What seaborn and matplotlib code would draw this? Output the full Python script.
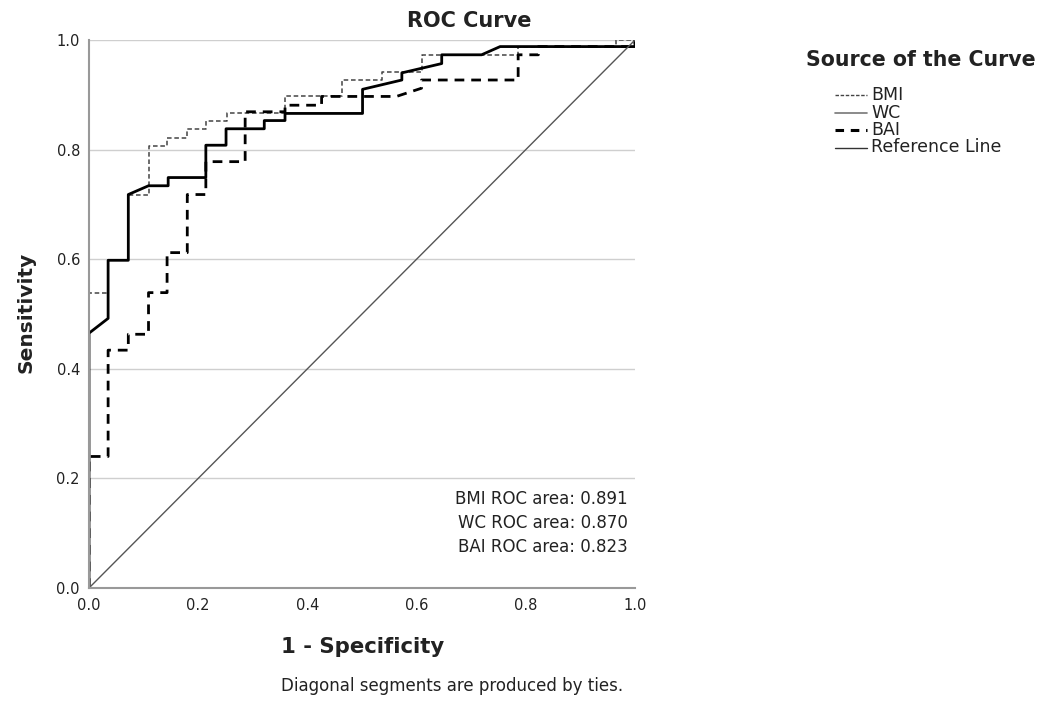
import matplotlib.pyplot as plt
from matplotlib.lines import Line2D
import seaborn as sns
import pandas as pd

sns.set_theme(style="white")
plt.rcParams['font.family'] = ['DejaVu Sans']

# ROC step vertices (1 - specificity, sensitivity)
bmi_fpr = [0, 0, 0.035, 0.035, 0.072, 0.072, 0.109, 0.109, 0.143, 0.143, 0.180, 0.180,
           0.215, 0.215, 0.252, 0.252, 0.359, 0.359, 0.463, 0.463, 0.536, 0.536,
           0.609, 0.609, 0.786, 0.786, 0.966, 0.966, 1.0]
bmi_tpr = [0, 0.539, 0.539, 0.598, 0.598, 0.718, 0.718, 0.807, 0.807, 0.822, 0.822, 0.838,
           0.838, 0.853, 0.853, 0.867, 0.867, 0.897, 0.897, 0.927, 0.927, 0.942,
           0.942, 0.973, 0.973, 0.988, 0.988, 1.0, 1.0]

wc_fpr = [0, 0, 0.035, 0.035, 0.072, 0.072, 0.109, 0.145, 0.145, 0.214, 0.214, 0.251,
          0.251, 0.321, 0.321, 0.359, 0.359, 0.501, 0.501, 0.573, 0.573, 0.646, 0.646,
          0.719, 0.753, 1.0, 1.0]
wc_tpr = [0, 0.465, 0.492, 0.598, 0.598, 0.718, 0.734, 0.734, 0.749, 0.749, 0.808, 0.808,
          0.838, 0.838, 0.853, 0.853, 0.866, 0.866, 0.910, 0.927, 0.940, 0.957, 0.973,
          0.973, 0.988, 0.988, 1.0]

bai_fpr = [0, 0, 0.035, 0.035, 0.072, 0.072, 0.109, 0.109, 0.143, 0.143, 0.180, 0.180,
           0.214, 0.214, 0.286, 0.286, 0.359, 0.359, 0.426, 0.426, 0.563, 0.609, 0.609,
           0.786, 0.786, 0.823, 0.823, 1.0, 1.0]
bai_tpr = [0, 0.240, 0.240, 0.434, 0.434, 0.463, 0.463, 0.539, 0.539, 0.612, 0.612, 0.718,
           0.718, 0.778, 0.778, 0.869, 0.869, 0.881, 0.881, 0.897, 0.897, 0.912, 0.927,
           0.927, 0.973, 0.973, 0.988, 0.988, 1.0]

ref_fpr = [0, 1]
ref_tpr = [0, 1]

sources = ["BMI", "WC", "BAI", "Reference Line"]
area_names = ["BMI", "WC", "BAI"]
area_values = ["0.891", "0.870", "0.823"]

curves = {"BMI": (bmi_fpr, bmi_tpr), "WC": (wc_fpr, wc_tpr),
          "BAI": (bai_fpr, bai_tpr), "Reference Line": (ref_fpr, ref_tpr)}
df = pd.concat([pd.DataFrame({"fpr": f, "tpr": t, "source": s})
                for s, (f, t) in curves.items()], ignore_index=True)

styles = {
    "BMI": dict(color="#444444", linewidth=1.1, linestyle=(0, (3, 1.8))),
    "WC": dict(color="black", linewidth=2.0, linestyle="-"),
    "BAI": dict(color="black", linewidth=2.0, linestyle=(0, (3.5, 2.5))),
    "Reference Line": dict(color="#555555", linewidth=1.0, linestyle="-"),
}
# legend swatches look a little different from the plotted lines
legend_styles = {
    "BMI": dict(color="#444444", linewidth=1.0, linestyle=(0, (2.5, 1.2))),
    "WC": dict(color="#777777", linewidth=1.2, linestyle="-"),
    "BAI": dict(color="black", linewidth=2.2, linestyle=(0, (2.8, 2.2))),
    "Reference Line": dict(color="#333333", linewidth=1.0, linestyle="-"),
}

W, H = 1059, 702
fig = plt.figure(figsize=(W / 100, H / 100), dpi=100)
ax = fig.add_axes([89 / W, 114 / H, 546 / W, 548 / H])

for s in sources:
    sns.lineplot(data=df[df.source == s], x="fpr", y="tpr", sort=False,
                 estimator=None, ax=ax, **styles[s])

ax.set_xlim(0, 1)
ax.set_ylim(0, 1)
ticks = [0, 0.2, 0.4, 0.6, 0.8, 1.0]
ax.set_xticks(ticks)
ax.set_yticks(ticks)
ax.set_xticklabels([f"{t:.1f}" for t in ticks])
ax.set_yticklabels([f"{t:.1f}" for t in ticks])
ax.tick_params(axis="both", length=0, labelsize=10.5, colors="#222222")
ax.tick_params(axis="y", pad=6.5)
ax.tick_params(axis="x", pad=7)
ax.yaxis.grid(True, color="#cfcfcf", linewidth=1)
ax.xaxis.grid(False)
ax.set_axisbelow(True)
for side in ["top", "right"]:
    ax.spines[side].set_visible(False)
for side in ["left", "bottom"]:
    ax.spines[side].set_color("#999999")
    ax.spines[side].set_linewidth(1.5)
ax.set_xlabel("")
ax.set_ylabel("")
if ax.get_legend() is not None:
    ax.get_legend().remove()

for i, (name, val) in enumerate(zip(area_names, area_values)):
    ax.text(0.987, (588 - 499 - i * 24) / 548, f"{name} ROC area: {val}",
            transform=ax.transAxes, ha="right", va="center", fontsize=12, color="#222222")

fig.text(469 / W, 1 - 21 / H, "ROC Curve", ha="center", va="center",
         fontsize=15, fontweight="bold", color="#222222")
fig.text(26 / W, 1 - 312 / H, "Sensitivity", ha="center", va="center",
         rotation=90, fontsize=14.5, fontweight="bold", color="#222222")
fig.text(281 / W, 1 - 647 / H, "1 - Specificity", ha="left", va="center",
         fontsize=15.3, fontweight="bold", color="#222222")
fig.text(281 / W, 1 - 686 / H, "Diagonal segments are produced by ties.",
         ha="left", va="center", fontsize=12, color="#222222")

# legend, laid out by hand to match the tight row spacing
fig.text(806 / W, 1 - 60 / H, "Source of the Curve", ha="left", va="center",
         fontsize=14.8, fontweight="bold", color="#222222")
for i, s in enumerate(sources):
    y = 1 - (95 + 17.5 * i) / H
    fig.add_artist(Line2D([835 / W, 867 / W], [y, y], transform=fig.transFigure,
                          **legend_styles[s]))
    fig.text(871 / W, y, s, ha="left", va="center", fontsize=12.5, color="#222222")

fig.savefig("out.png", dpi=100)
